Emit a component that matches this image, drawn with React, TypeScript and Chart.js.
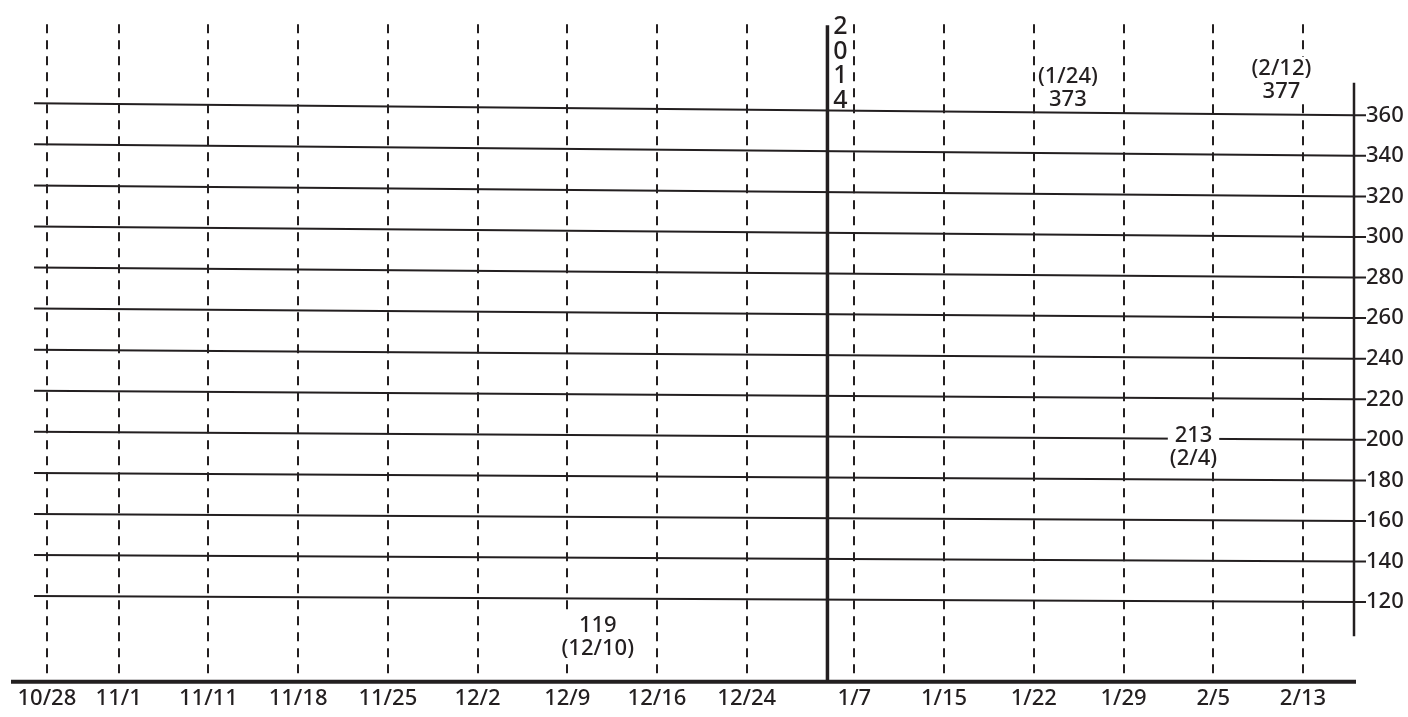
import React, { useEffect, useRef } from "react";
import { Chart, registerables } from "chart.js";

Chart.register(...registerables);

// ---- data ----
const tickLabels = ["10/28", "11/1", "11/11", "11/18", "11/25", "12/2", "12/9", "12/16", "12/24", "1/7", "1/15", "1/22", "1/29", "2/5", "2/13"];
const tickSlots = [0, 4, 9, 14, 19, 24, 29, 34, 39, 45, 50, 55, 60, 65, 70];
const yTicks = [120, 140, 160, 180, 200, 220, 240, 260, 280, 300, 320, 340, 360];
const pointDates = ["12/10", "1/24", "2/4", "2/12"];
const pointSlots = [30.7, 56.9, 63.9, 68.8];
const pointValues = [119, 373, 213, 377];
const yearLabel = "2014";
const yearSlot = 43.5;

const INK = "#231f20";
const FONT = '"Noto Sans", "DejaVu Sans", sans-serif';

const overlayPlugin = {
  id: "overlay",
  afterDatasetsDraw(chart: any, _args: any, opts: any) {
    const { ctx, chartArea: ca, scales } = chart;
    const x = scales.x;
    const y = scales.y;
    ctx.save();
    ctx.strokeStyle = INK;
    ctx.fillStyle = INK;
    ctx.setLineDash([]);

    // slightly slanted horizontal rules
    ctx.lineWidth = 2;
    const x0 = ca.left + 23;
    const x1 = ca.right + 11;
    for (const v of yTicks) {
      const yr = y.getPixelForValue(v);
      const tilt = 6 + ((v - 120) / 240) * 6;
      ctx.beginPath();
      ctx.moveTo(x0, yr - tilt);
      ctx.lineTo(ca.right, yr);
      ctx.lineTo(x1, yr);
      ctx.stroke();
    }

    // year separator
    const yx = x.getPixelForValue(yearSlot);
    ctx.lineWidth = 3.5;
    ctx.beginPath();
    ctx.moveTo(yx, ca.top + 1);
    ctx.lineTo(yx, ca.bottom);
    ctx.stroke();

    ctx.font = `500 25px ${FONT}`;
    ctx.textAlign = "center";
    ctx.textBaseline = "middle";
    yearLabel.split("").forEach((c, i) => {
      ctx.fillText(c, yx + 13, ca.top + 3 + i * 24.5);
    });

    // right value axis
    ctx.lineWidth = 2.5;
    const ax = ca.right - 1;
    ctx.beginPath();
    ctx.moveTo(ax, y.getPixelForValue(opts.axisTop));
    ctx.lineTo(ax, y.getPixelForValue(opts.axisBottom));
    ctx.stroke();

    // bottom date axis
    ctx.lineWidth = 4;
    ctx.beginPath();
    ctx.moveTo(ca.left, ca.bottom + 0.7);
    ctx.lineTo(ca.right + 1, ca.bottom + 0.7);
    ctx.stroke();

    // point annotations
    ctx.font = `500 22px ${FONT}`;
    const lh = 23;
    pointValues.forEach((v, i) => {
      const px = x.getPixelForValue(pointSlots[i]);
      const py = y.getPixelForValue(v);
      const side = opts.sides[i];
      const lines = side === "above" ? [`(${pointDates[i]})`, `${v}`] : [`${v}`, `(${pointDates[i]})`];
      const first = side === "above" ? py + 11 - lh : py + 22;
      const w = Math.max(...lines.map((t) => ctx.measureText(t).width)) + 4;
      ctx.fillStyle = "#ffffff";
      ctx.fillRect(px - w / 2, first - 12, w, lh + 20);
      ctx.fillStyle = INK;
      lines.forEach((t, k) => ctx.fillText(t, px, first + k * lh));
    });

    ctx.restore();
  },
};

export default function App() {
  const ref = useRef<HTMLCanvasElement | null>(null);

  useEffect(() => {
    if (!ref.current) return;
    Chart.defaults.font.family = FONT;
    Chart.defaults.color = INK;
    const chart = new Chart(ref.current, {
      type: "scatter",
      data: {
        datasets: [
          {
            data: pointSlots.map((s, i) => ({ x: s, y: pointValues[i] })),
            pointRadius: 0,
            showLine: false,
            borderColor: INK,
            backgroundColor: INK,
          },
        ],
      },
      options: {
        animation: false,
        responsive: true,
        maintainAspectRatio: false,
        layout: { padding: { top: 20, left: 11, right: 0, bottom: 0 } },
        plugins: {
          legend: { display: false },
          tooltip: { enabled: false },
          overlay: { sides: ["below", "above", "below", "above"], axisTop: 376, axisBottom: 103.2 },
        } as any,
        scales: {
          x: {
            type: "linear",
            position: "bottom",
            min: -2.0,
            max: 72.9,
            afterBuildTicks: (s: any) => {
              s.ticks = tickSlots.map((v) => ({ value: v }));
            },
            afterFit: (s: any) => {
              s.height = 36;
            },
            ticks: {
              autoSkip: false,
              maxRotation: 0,
              padding: 5,
              color: INK,
              font: { size: 22, family: FONT, weight: "500" },
              callback: (val: any) => {
                const i = tickSlots.indexOf(Number(val));
                return i >= 0 ? tickLabels[i] : "";
              },
            },
            grid: {
              color: INK,
              lineWidth: 2,
              drawTicks: false,
              drawOnChartArea: true,
            },
            border: { display: false, dash: [9, 7] },
          },
          y: {
            type: "linear",
            position: "right",
            min: 81.1,
            max: 404.9,
            afterBuildTicks: (s: any) => {
              s.ticks = yTicks.map((v) => ({ value: v }));
            },
            afterFit: (s: any) => {
              s.width = 53;
            },
            ticks: {
              padding: 11,
              color: INK,
              font: { size: 22, family: FONT, weight: "500" },
              callback: (val: any) => String(val),
            },
            grid: { display: false, drawTicks: false },
            border: { display: false },
          },
        },
      },
      plugins: [overlayPlugin],
    });
    return () => chart.destroy();
  }, []);

  return (
    <div style={{ position: "absolute", left: 0, top: 0, width: 1408, height: 717, background: "#ffffff" }}>
      <canvas ref={ref} />
    </div>
  );
}
